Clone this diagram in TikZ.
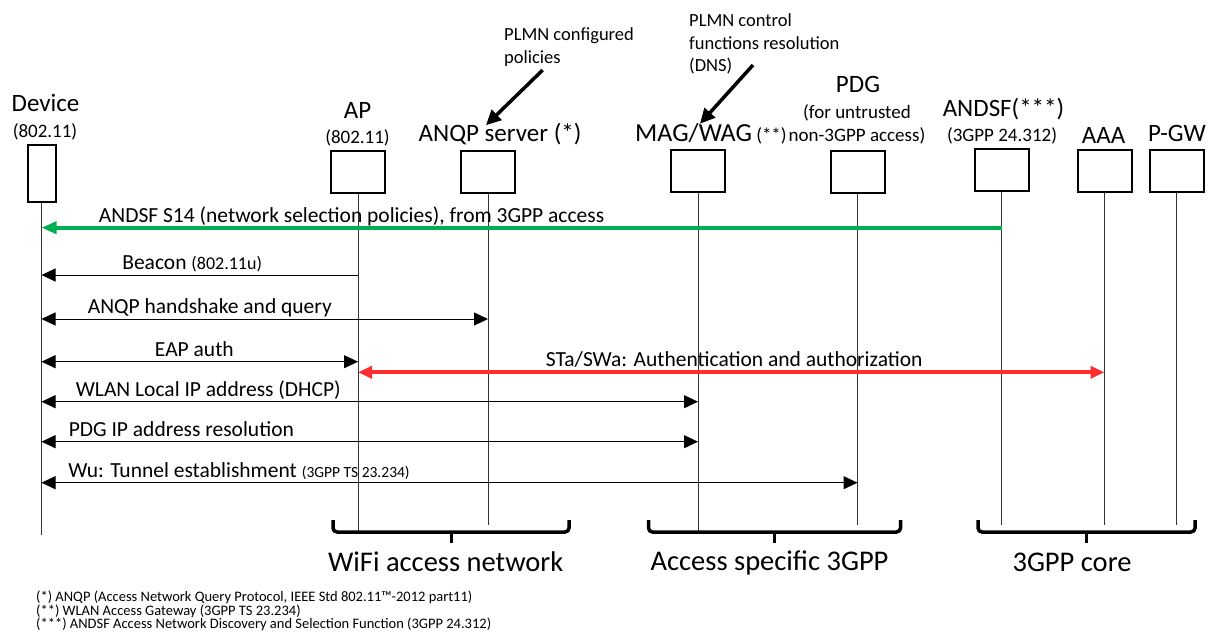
\documentclass[tikz,border=0pt]{standalone}
\usepackage{fontspec}
\setmainfont{Carlito}
\usetikzlibrary{arrows.meta,positioning}
\definecolor{sgreen}{RGB}{0,176,80}
\definecolor{sred}{RGB}{255,45,45}
\newcommand{\fs}[1]{\fontsize{#1}{#1}\selectfont}

\begin{document}
\begin{tikzpicture}[x=1pt,y=-1pt,
	ent/.style={draw,line width=2pt,minimum width=54pt,minimum height=42pt,inner sep=0pt},
	ttl/.style={anchor=base,inner sep=0pt,font=\fs{25}},
	sub/.style={anchor=base,inner sep=0pt,font=\fs{19}},
	notetxt/.style={anchor=base west,inner sep=0pt,font=\fs{18.5}},
	notearr/.style={line width=3.5pt,-{Triangle[length=15pt,width=14pt]}},
	life/.style={line width=1pt,black!80},
	msg/.style={line width=1pt,-{Triangle[length=14pt,width=13pt]}},
	both/.style={line width=1pt,{Triangle[length=14pt,width=13pt]}-{Triangle[length=14pt,width=13pt]}},
	lab/.style={anchor=base,inner sep=0pt,yshift=5.5pt,font=\fs{21.5}},
	grp/.style={line width=3.5pt,rounded corners=4pt},
	grplab/.style={anchor=base,inner sep=0pt,font=\fs{28.5}},
	foot/.style={anchor=base west,inner sep=0pt,font=\fs{14.5}}]
	\useasboundingbox (0,0) rectangle (1208,635);

	% entities
	\node[ent,minimum width=28pt,minimum height=57pt] (dev) at (41.5,173) {};
	\node[ent] (ap) at (358,171.5) {};
	\node[ent] (anqp) at (488,171.5) {};
	\node[ent] (mag) at (698,171) {};
	\node[ent] (pdg) at (857.5,171.5) {};
	\node[ent] (andsf) at (1001.5,170) {};
	\node[ent] (aaa) at (1104.5,170.5) {};
	\node[ent] (pgw) at (1176.5,170.5) {};

	\node[ttl] (devT) at (45.5,111.7) {Device};
	\node[sub] (devS) at (45,137.7) {(802.11)};
	\node[ttl] (apT) at (357.5,118) {AP};
	\node[sub] (apS) at (357.5,143) {(802.11)};
	\node[ttl] (anqpT) at (500,141.7) {ANQP server (*)};
	\node[ttl,anchor=base west] (magT) at (635,141) {\fs{26}MAG/WAG\,{\fs{19}(**)}};
	\node[ttl] (pdgT) at (858,92.7) {PDG};
	\node[sub] (pdgS1) at (857,118) {(for untrusted};
	\node[sub] (pdgS2) at (857,141.7) {non-3GPP access)};
	\node[ttl] (andsfT) at (1003.5,116) {ANDSF(***)};
	\node[sub] (andsfS) at (1002,141.7) {(3GPP 24.312)};
	\node[ttl] (aaaT) at (1103.5,143.3) {AAA};
	\node[ttl] (pgwT) at (1177,141.7) {P-GW};

	% notes
	\node[notetxt] (cfgN1) at (504,40) {PLMN configured};
	\node[notetxt] (cfgN2) at (504,63.3) {policies};
	\node[notetxt] (dnsN1) at (689,26) {PLMN control};
	\node[notetxt] (dnsN2) at (689,49) {functions resolution};
	\node[notetxt] (dnsN3) at (689,71.7) {(DNS)};
	\coordinate (cfgTail) at (542.7,70);
	\coordinate (dnsTail) at (753,65);
	\draw[notearr] (cfgTail) -- ([xshift=-14pt,yshift=-2pt]anqpT.north);
	\draw[notearr] (dnsTail) -- ([xshift=-11pt,yshift=-1pt]magT.north);

	% lifelines
	\coordinate (endD) at (0,535);
	\coordinate (endA) at (0,532);
	\coordinate (endB) at (0,525);
	\draw[life] (dev) -- (dev |- endD);
	\draw[life] (ap) -- (ap |- endA);
	\draw[life] (anqp) -- (anqp |- endB);
	\draw[life] (mag) -- (mag |- endA);
	\draw[life] (pdg) -- (pdg |- endB);
	\draw[life] (andsf) -- (andsf |- endB);
	\draw[life] (aaa) -- (aaa |- endB);
	\draw[life] (pgw) -- (pgw |- endB);

	% messages
	\coordinate (r1) at (0,227.7);
	\coordinate (r2) at (0,275);
	\coordinate (r3) at (0,319);
	\coordinate (r4) at (0,361.7);
	\coordinate (r5) at (0,372.3);
	\coordinate (r6) at (0,401.7);
	\coordinate (r7) at (0,441.7);
	\coordinate (r8) at (0,482.7);
	\draw[line width=4pt,sgreen,-{Triangle[length=15pt,width=12pt]}] (andsf |- r1) -- node[lab,black,pos=.677]{ANDSF S14 (network selection policies), from 3GPP access} (dev |- r1);
	\draw[msg] (ap |- r2) -- node[lab,pos=.524]{Beacon {\fs{18}(802.11u)}} (dev |- r2);
	\draw[both] (dev |- r3) -- node[lab,pos=.377]{ANQP handshake and query} (anqp |- r3);
	\draw[both] (dev |- r4) -- node[lab,pos=.483]{EAP auth} (ap |- r4);
	\draw[line width=4pt,sred,{Triangle[length=14pt,width=12pt]}-{Triangle[length=14pt,width=12pt]}] (ap |- r5) -- node[lab,black,pos=.504]{STa/SWa: Authentication and authorization} (aaa |- r5);
	\draw[both] (dev |- r6) -- node[lab,pos=.254]{WLAN Local IP address (DHCP)} (mag |- r6);
	\draw[both] (dev |- r7) -- node[lab,pos=.213]{PDG IP address resolution} (mag |- r7);
	\draw[both] (dev |- r8) -- node[lab,pos=.242]{Wu: Tunnel establishment {\fs{15.5}(3GPP TS 23.234)}} (pdg |- r8);

	% groups
	\draw[grp] (333,520) -- (333,532) -- (569,532) -- (569,520);
	\draw[grp] (451.6,532) -- (451.6,543);
	\node[grplab] (wifiL) at (445.7,571.7) {WiFi access network};
	\draw[grp] (648.5,520) -- (648.5,532) -- (900.5,532) -- (900.5,520);
	\draw[grp] (774.5,532) -- (774.5,543);
	\node[grplab] (accL) at (769.5,570) {Access specific 3GPP};
	\draw[grp] (978,520) -- (978,532) -- (1195,532) -- (1195,520);
	\draw[grp] (1086.6,532) -- (1086.6,543);
	\node[grplab] (coreL) at (1072,571.7) {3GPP core};

	% footnotes
	\node[foot] (fn1) at (36,601.7) {(*) ANQP (Access Network Query Protocol, IEEE Std 802.11\texttrademark-2012 part11)};
	\node[foot] (fn2) at (36,615) {(**) WLAN Access Gateway (3GPP TS 23.234)};
	\node[foot] (fn3) at (36,628) {(***) ANDSF Access Network Discovery and Selection Function (3GPP 24.312)};
\end{tikzpicture}
\end{document}
